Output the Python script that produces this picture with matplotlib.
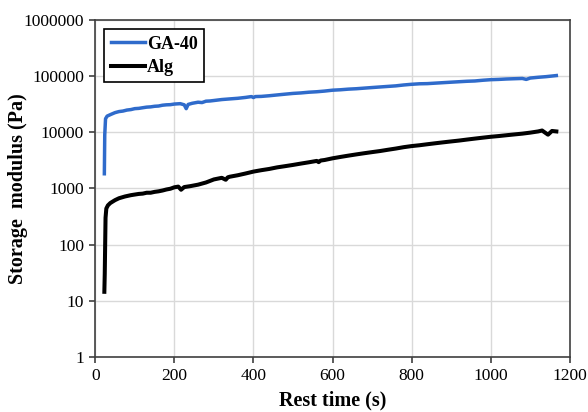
import matplotlib
matplotlib.use("Agg")
from matplotlib import pyplot as plt

# GA-40 storage modulus
ga_time = [23, 24, 26, 30, 40, 50, 60, 70, 80, 90, 100, 110, 120, 130, 140, 150, 160,
           170, 180, 190, 200, 215, 225, 230, 235, 245, 260, 270, 280, 290, 300, 320,
           340, 360, 380, 395, 400, 405, 420, 440, 460, 480, 500, 520, 540, 560, 580,
           600, 620, 640, 660, 680, 700, 720, 740, 760, 780, 800, 820, 840, 860, 880,
           900, 920, 940, 960, 980, 1000, 1020, 1040, 1060, 1080, 1090, 1100, 1120,
           1140, 1166]
ga_g = [1830, 9000, 17500, 19500, 21000, 22500, 23500, 24000, 25000, 25500, 26500,
        26800, 27500, 28200, 28500, 29200, 29500, 30500, 31000, 31200, 32000, 32500,
        31000, 26500, 31500, 33000, 34500, 34000, 36000, 36300, 37000, 38500, 39500,
        40500, 42000, 43500, 41800, 43500, 43800, 45000, 46500, 48000, 49500, 50500,
        52000, 53000, 54500, 56500, 57500, 59000, 60000, 61500, 63000, 64500, 66000,
        67500, 70000, 72000, 73500, 74000, 75500, 77000, 78500, 80000, 81500, 82500,
        85000, 87000, 88000, 89500, 90500, 91500, 88000, 93000, 96000, 98500, 103000]

# Alg storage modulus
alg_time = [23, 24, 26, 28, 32, 38, 50, 60, 75, 90, 100, 110, 120, 130, 140, 150, 160,
            170, 180, 190, 200, 210, 217, 225, 240, 260, 280, 300, 320, 330, 335, 340,
            360, 380, 400, 420, 440, 460, 480, 500, 520, 540, 560, 565, 570, 580, 600,
            620, 640, 660, 680, 700, 720, 740, 760, 780, 800, 820, 840, 860, 880, 900,
            920, 940, 960, 980, 1000, 1020, 1040, 1060, 1080, 1100, 1120, 1130, 1145,
            1155, 1166]
alg_g = [14.4, 30, 300, 440, 500, 550, 620, 670, 720, 760, 780, 800, 810, 840, 840,
         870, 890, 920, 960, 990, 1050, 1080, 950, 1060, 1100, 1170, 1280, 1450, 1550,
         1430, 1580, 1620, 1720, 1850, 2000, 2120, 2230, 2380, 2500, 2630, 2780, 2930,
         3100, 2950, 3150, 3220, 3450, 3650, 3850, 4050, 4250, 4450, 4650, 4900, 5150,
         5450, 5700, 5900, 6150, 6400, 6650, 6900, 7150, 7450, 7750, 8050, 8350, 8600,
         8900, 9200, 9500, 9900, 10400, 10800, 9100, 10600, 10400]

y_ticks = [1, 10, 100, 1000, 10000, 100000, 1000000]

plt.rcParams["font.family"] = ["Liberation Serif", "DejaVu Serif"]

fig = plt.figure(figsize=(5.88, 4.12), dpi=100)
ax = fig.add_axes([0.162, 0.134, 0.807, 0.817])

ax.plot(ga_time, ga_g, color="#2F6BCB", lw=2.5, label="GA-40")
ax.plot(alg_time, alg_g, color="black", lw=2.9, label="Alg")

ax.set_yscale("log")
ax.set_xlim(0, 1200)
ax.set_ylim(1, 1000000)
ax.set_xticks(range(0, 1201, 200))
ax.set_yticks(y_ticks)
ax.set_yticklabels([str(v) for v in y_ticks])
ax.minorticks_off()
ax.grid(True, color="#d9d9d9", lw=1.0)
ax.set_axisbelow(True)

for s in ax.spines.values():
    s.set_color("#404040")
    s.set_linewidth(1.2)
ax.tick_params(labelsize=12.5, length=4, width=1.2, color="#404040", pad=4)

ax.set_xlabel("Rest time (s)", fontsize=14.5, fontweight="bold", labelpad=5)
ax.set_ylabel("Storage  modulus (Pa)", fontsize=14.5, fontweight="bold")
ax.yaxis.set_label_coords(-0.142, 0.5)

leg = ax.legend(loc="upper left", bbox_to_anchor=(0.0, 1.0), fancybox=False,
                edgecolor="black", framealpha=1, handlelength=1.9, handletextpad=0.1,
                borderpad=0.35, labelspacing=0.35,
                prop={"size": 13, "weight": "bold"})
leg.get_frame().set_linewidth(1.2)

fig.savefig("out.png", dpi=100)
